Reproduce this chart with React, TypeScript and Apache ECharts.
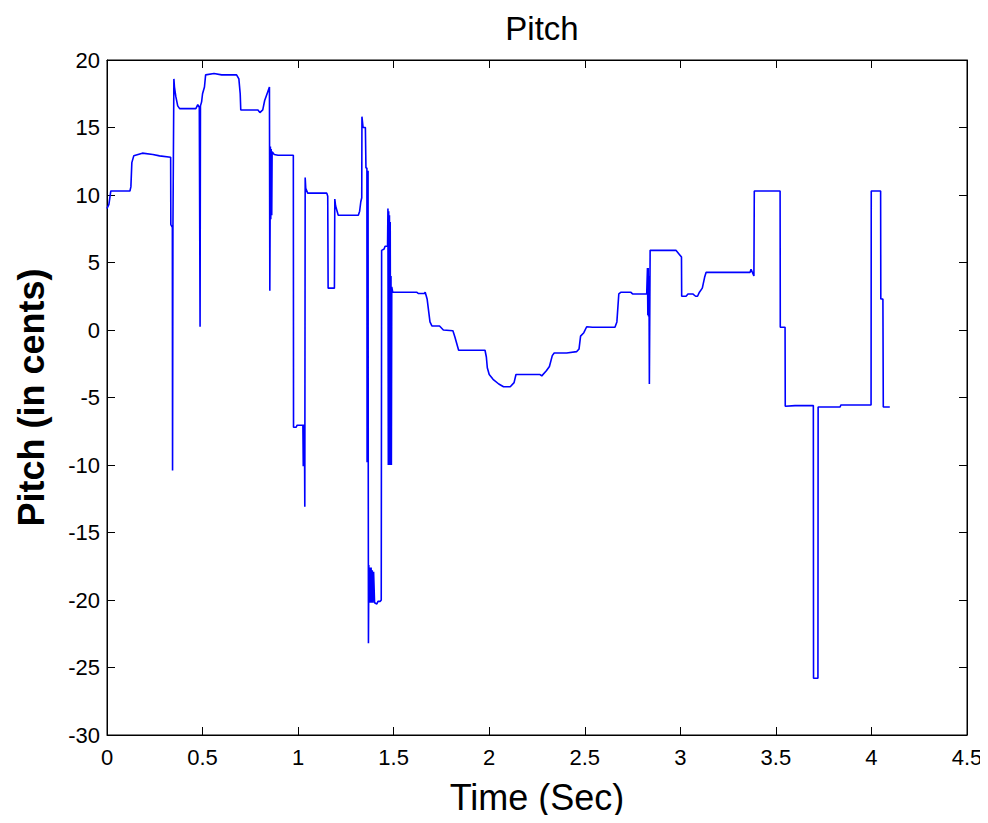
import React, { useEffect, useRef } from "react";
import * as echarts from "echarts";

const timeSec: number[] = [
  0.000, 0.010, 0.020, 0.120, 0.125, 0.130, 0.140, 0.185, 0.240, 0.275,
  0.333, 0.334, 0.342, 0.343, 0.345, 0.350, 0.353, 0.360, 0.370, 0.380,
  0.465, 0.475, 0.483, 0.487, 0.489, 0.495, 0.500, 0.510, 0.516, 0.560,
  0.600, 0.678, 0.690, 0.697, 0.700, 0.790, 0.800, 0.815, 0.825, 0.840,
  0.850, 0.852, 0.855, 0.857, 0.859, 0.862, 0.864, 0.875, 0.895, 0.975,
  0.976, 0.990, 0.995, 1.025, 1.027, 1.029, 1.031, 1.033, 1.035, 1.037,
  1.040, 1.050, 1.150, 1.155, 1.157, 1.190, 1.192, 1.196, 1.210, 1.315,
  1.322, 1.328, 1.333, 1.334, 1.340, 1.352, 1.355, 1.360, 1.361, 1.362,
  1.363, 1.364, 1.365, 1.366, 1.367, 1.368, 1.370, 1.373, 1.376, 1.379,
  1.382, 1.385, 1.388, 1.391, 1.395, 1.400, 1.412, 1.418, 1.430, 1.435,
  1.437, 1.450, 1.455, 1.468, 1.470, 1.472, 1.474, 1.476, 1.478, 1.480,
  1.482, 1.484, 1.486, 1.488, 1.490, 1.495, 1.620, 1.630, 1.660, 1.665,
  1.675, 1.690, 1.700, 1.740, 1.760, 1.810, 1.820, 1.840, 1.978, 1.985,
  1.990, 2.000, 2.020, 2.050, 2.075, 2.110, 2.130, 2.140, 2.266, 2.275,
  2.300, 2.315, 2.330, 2.340, 2.405, 2.458, 2.470, 2.478, 2.495, 2.510,
  2.540, 2.658, 2.668, 2.678, 2.690, 2.740, 2.750, 2.824, 2.828, 2.830,
  2.832, 2.834, 2.836, 2.838, 2.842, 2.977, 2.995, 3.006, 3.007, 3.030,
  3.040, 3.065, 3.080, 3.090, 3.100, 3.115, 3.127, 3.135, 3.365, 3.370,
  3.385, 3.387, 3.522, 3.523, 3.548, 3.549, 3.600, 3.696, 3.697, 3.720,
  3.721, 3.836, 3.840, 3.998, 3.999, 4.048, 4.049, 4.060, 4.062, 4.096,
];

const pitchCents: number[] = [
  9.0, 9.3, 10.3, 10.3, 10.6, 12.4, 12.9, 13.1, 13.0, 12.9,
  12.8, 7.8, 7.6, -10.4, 7.5, 18.6, 18.0, 17.3, 16.6, 16.4,
  16.4, 16.7, 16.5, 0.25, 16.6, 16.9, 17.5, 18.0, 18.9, 19.0,
  18.9, 18.9, 18.6, 17.5, 16.3, 16.3, 16.1, 16.3, 17.0, 17.6,
  18.0, 2.9, 13.6, 8.2, 13.4, 8.5, 13.2, 13.0, 12.95, 12.95,
  -7.2, -7.2, -7.05, -7.05, -10.1, -7.0, -10.0, -7.0, -13.1, 11.3,
  10.5, 10.14, 10.14, 9.9, 3.1, 3.1, 9.7, 9.2, 8.5, 8.5,
  8.8, 9.5, 9.8, 15.8, 15.0, 15.0, 12.0, 12.0, -9.8, 11.8,
  -9.8, 11.8, -9.8, 11.8, -9.8, -23.2, -17.4, -20.2, -17.6, -20.2,
  -17.6, -20.2, -17.8, -20.2, -17.9, -20.2, -20.3, -20.1, -20.1, -20.0,
  5.9, 6.0, 6.2, 6.2, 9.0, -10.0, 8.8, -10.0, 8.5, -10.0,
  8.0, -10.0, 4.0, -10.0, 3.2, 2.8, 2.8, 2.7, 2.7, 2.8,
  2.3, 0.6, 0.3, 0.3, 0.0, -0.05, -0.5, -1.5, -1.5, -2.0,
  -2.8, -3.3, -3.65, -4.0, -4.2, -4.2, -3.9, -3.3, -3.3, -3.4,
  -3.0, -2.7, -1.9, -1.7, -1.7, -1.6, -1.4, -0.45, -0.2, 0.24,
  0.2, 0.2, 0.6, 2.67, 2.8, 2.8, 2.67, 2.67, 4.6, 1.1,
  4.6, 1.0, 4.0, -4.0, 5.9, 5.9, 5.6, 5.4, 2.5, 2.5,
  2.67, 2.67, 2.5, 2.5, 2.8, 3.1, 3.9, 4.27, 4.27, 4.5,
  4.0, 10.3, 10.3, 0.2, 0.2, -5.65, -5.6, -5.6, -25.8, -25.8,
  -5.7, -5.7, -5.56, -5.56, 10.3, 10.3, 2.3, 2.3, -5.7, -5.7,
];

const xTicks: number[] = [0, 0.5, 1, 1.5, 2, 2.5, 3, 3.5, 4, 4.5];
const yTicks: number[] = [-30, -25, -20, -15, -10, -5, 0, 5, 10, 15, 20];

const FONT = "'Liberation Sans', Arial, Helvetica, sans-serif";

export default function App() {
  const ref = useRef<HTMLDivElement>(null);

  useEffect(() => {
    if (!ref.current) return;
    const chart = echarts.init(ref.current, null, { renderer: "svg" });
    const data = timeSec.map((t, i) => [t, pitchCents[i]]);
    const xMin = xTicks[0];
    const xMax = xTicks[xTicks.length - 1];
    const yMin = yTicks[0];
    const yMax = yTicks[yTicks.length - 1];

    const tickCommon = {
      show: true,
      inside: true,
      length: 8,
      lineStyle: { color: "#000", width: 1 },
    };
    const lineCommon = {
      show: true,
      onZero: false,
      lineStyle: { color: "#000", width: 1 },
    };

    chart.setOption({
      animation: false,
      backgroundColor: "#fff",
      title: {
        text: "Pitch",
        left: 537,
        textAlign: "center",
        top: 7,
        textStyle: {
          fontFamily: FONT,
          fontSize: 33,
          fontWeight: "normal",
          color: "#000",
        },
      },
      grid: {
        left: 107,
        right: 21,
        top: 60,
        bottom: 88,
        show: true,
        borderColor: "#000",
        borderWidth: 1,
        backgroundColor: "#fff",
      },
      xAxis: [
        {
          type: "value",
          min: xMin,
          max: xMax,
          interval: 0.5,
          position: "bottom",
          name: "Time (Sec)",
          nameLocation: "middle",
          nameGap: 44,
          nameTextStyle: {
            fontFamily: FONT,
            fontSize: 36,
            color: "#000",
          },
          axisLine: lineCommon,
          axisTick: tickCommon,
          splitLine: { show: false },
          axisLabel: {
            fontFamily: FONT,
            fontSize: 22,
            color: "#000",
            margin: 11,
            formatter: (v: number) => String(v),
          },
        },
        {
          type: "value",
          min: xMin,
          max: xMax,
          interval: 0.5,
          position: "top",
          axisLine: lineCommon,
          axisTick: tickCommon,
          splitLine: { show: false },
          axisLabel: { show: false },
        },
      ],
      yAxis: [
        {
          type: "value",
          min: yMin,
          max: yMax,
          interval: 5,
          position: "left",
          name: "Pitch (in cents)",
          nameLocation: "middle",
          nameGap: 58,
          nameTextStyle: {
            fontFamily: FONT,
            fontSize: 36,
            fontWeight: "bold",
            color: "#000",
          },
          axisLine: lineCommon,
          axisTick: tickCommon,
          splitLine: { show: false },
          axisLabel: {
            fontFamily: FONT,
            fontSize: 22,
            color: "#000",
            margin: 7,
          },
        },
        {
          type: "value",
          min: yMin,
          max: yMax,
          interval: 5,
          position: "right",
          axisLine: lineCommon,
          axisTick: tickCommon,
          splitLine: { show: false },
          axisLabel: { show: false },
        },
      ],
      series: [
        {
          type: "line",
          xAxisIndex: 0,
          yAxisIndex: 0,
          data,
          showSymbol: false,
          symbol: "none",
          lineStyle: { color: "#0000ff", width: 1.6 },
        },
      ],
    });

    return () => chart.dispose();
  }, []);

  return <div ref={ref} style={{ width: 988, height: 823, margin: "-8px" }} />;
}
